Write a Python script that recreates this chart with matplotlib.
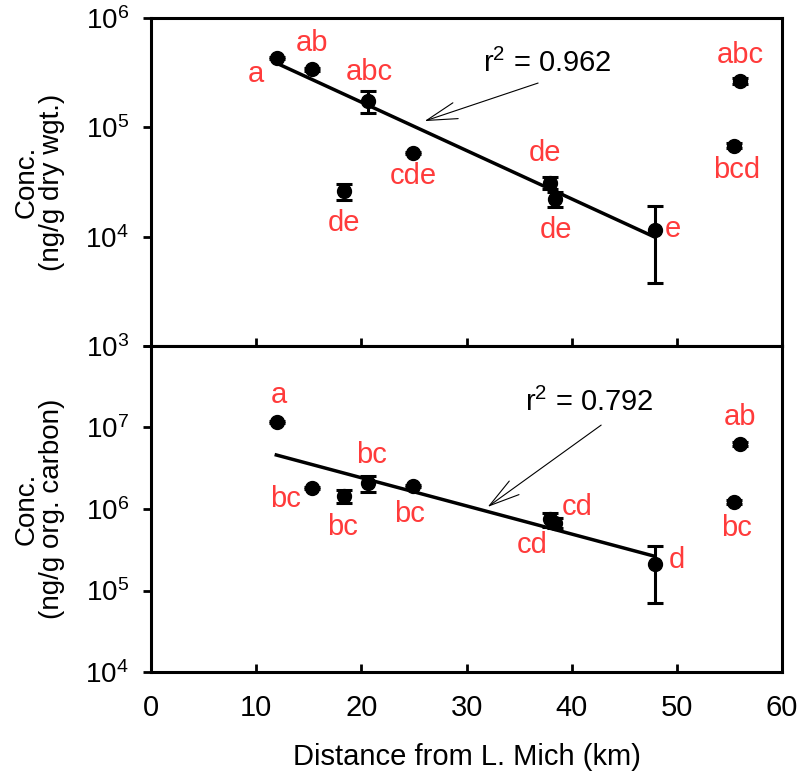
import math
import matplotlib
matplotlib.use("Agg")
import matplotlib.pyplot as plt
from matplotlib.ticker import LogLocator, FixedLocator, FuncFormatter

plt.rcParams['font.family'] = ['Liberation Sans', 'DejaVu Sans']
plt.rcParams['mathtext.fontset'] = 'custom'
plt.rcParams['mathtext.rm'] = 'Liberation Sans'
plt.rcParams['mathtext.it'] = 'Liberation Sans'

# ---- data ----
dist = [12.0, 15.3, 18.3, 20.6, 24.9, 37.9, 38.4, 47.9, 55.4, 56.0]
dry = [4.3e5, 3.4e5, 2.6e4, 1.74e5, 5.8e4, 3.1e4, 2.2e4, 1.15e4, 6.8e4, 2.65e5]
dry_err = [1.2e4, 1.0e4, 4.5e3, 4.0e4, 1.5e3, 4.0e3, 3.5e3, 7.7e3, 4.0e3, 1.8e4]
oc = [1.17e7, 1.81e6, 1.45e6, 2.08e6, 1.91e6, 7.5e5, 6.8e5, 2.1e5, 1.22e6, 6.3e6]
oc_err = [4e5, 5e4, 2.7e5, 4.5e5, 5e4, 1.4e5, 1.0e5, 1.4e5, 8e4, 4e5]

fit_x = [11.9, 47.8]
fit_dry = [3.87e5, 1.0e4]
fit_oc = [4.6e6, 2.65e5]

dry_letters = ['a', 'ab', 'de', 'abc', 'cde', 'de', 'de', 'e', 'bcd', 'abc']
dry_lx = [10.0, 15.3, 18.3, 20.7, 24.9, 37.5, 38.5, 49.6, 55.7, 56.0]
dry_ly = [3.08e5, 5.9e5, 1.33e4, 3.2e5, 3.58e4, 5.8e4, 1.15e4, 1.17e4, 4.07e4, 4.6e5]

oc_letters = ['a', 'bc', 'bc', 'bc', 'bc', 'cd', 'cd', 'd', 'bc', 'ab']
oc_lx = [12.1, 12.8, 18.2, 21.0, 24.6, 40.5, 36.2, 50.0, 55.7, 56.0]
oc_ly = [2.5e7, 1.32e6, 6.0e5, 4.6e6, 8.7e5, 1.06e6, 3.6e5, 2.37e5, 5.9e5, 1.35e7]

r2_dry = "r$^2$ = 0.962"
r2_oc = "r$^2$ = 0.792"

fig = plt.figure(figsize=(8.0, 7.78), dpi=100)
ax1 = fig.add_axes([0.189, 0.5553, 0.7885, 0.4216])
ax2 = fig.add_axes([0.189, 0.1362, 0.7885, 0.4191])

red = '#FF3B3B'
FS = 21

def style(ax, ylo, yhi, hide_top=False):
    ax.set_yscale('log')
    ax.set_xlim(0, 60)
    ax.set_ylim(ylo, yhi)
    for s in ax.spines.values():
        s.set_linewidth(2.2)
    ax.yaxis.set_major_locator(LogLocator(base=10, numticks=10))
    ax.yaxis.set_minor_locator(FixedLocator([]))
    def fmt(v, pos):
        e = int(round(math.log10(v)))
        if hide_top and abs(v - yhi) / yhi < 1e-6:
            return ''
        return r'$\mathregular{10^{%d}}$' % e
    ax.yaxis.set_major_formatter(FuncFormatter(fmt))
    ax.set_xticks(range(0, 61, 10))
    ax.tick_params(axis='y', direction='out', length=6, width=2, labelsize=20, pad=10)
    ax.tick_params(axis='x', direction='in', length=6, width=2, labelsize=FS, pad=16)

for ax, y, yerr, fy, letters, lx, ly in [
        (ax1, dry, dry_err, fit_dry, dry_letters, dry_lx, dry_ly),
        (ax2, oc, oc_err, fit_oc, oc_letters, oc_lx, oc_ly)]:
    ax.errorbar(dist, y, yerr=yerr, fmt='o', color='black', ms=10,
                elinewidth=2.2, capsize=6, capthick=2.2, zorder=3)
    ax.plot(fit_x, fy, color='black', lw=2.5, zorder=2)
    for t, xx, yy in zip(letters, lx, ly):
        ax.text(xx, yy, t, color=red, fontsize=FS, ha='center', va='center')

style(ax1, 1e3, 1e6)
style(ax2, 1e4, 1e8, hide_top=True)
ax1.tick_params(axis='x', labelbottom=False)

ax1.text(37.7, 3.87e5, r2_dry, fontsize=FS, ha='center', va='center')
ax1.annotate('', xy=(26.0, 1.14e5), xytext=(36.8, 2.54e5),
             arrowprops=dict(arrowstyle='->,head_length=1.1,head_width=0.3',
                             lw=0.8, color='black', mutation_scale=20,
                             shrinkA=0, shrinkB=0))
ax2.text(41.7, 2.04e7, r2_oc, fontsize=FS, ha='center', va='center')
ax2.annotate('', xy=(32.0, 1.06e6), xytext=(42.8, 1.07e7),
             arrowprops=dict(arrowstyle='->,head_length=1.1,head_width=0.3',
                             lw=0.8, color='black', mutation_scale=20,
                             shrinkA=0, shrinkB=0))

ax1.set_ylabel("Conc.\n(ng/g dry wgt.)", fontsize=20, labelpad=15, linespacing=0.95)
ax2.set_ylabel("Conc.\n(ng/g org. carbon)", fontsize=20, labelpad=15, linespacing=0.95)
ax2.set_xlabel("Distance from L. Mich (km)", fontsize=FS, labelpad=15)
fig.align_ylabels([ax1, ax2])

fig.savefig("out.png", dpi=100)
